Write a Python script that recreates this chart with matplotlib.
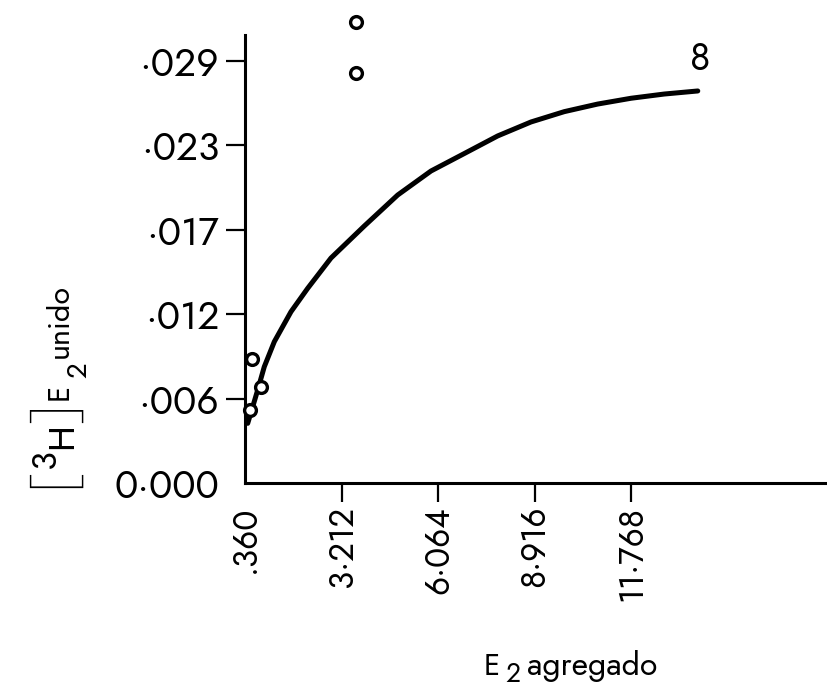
import matplotlib
matplotlib.use("Agg")
import matplotlib.pyplot as plt

plt.rcParams['font.family'] = ['Jost', 'Liberation Sans', 'DejaVu Sans']

# Measured binding: E2 added vs [3H]E2 bound
added_e2 = [3.63, 3.63, 0.566, 0.846, 0.507]
bound_e2 = [0.0317, 0.0282, 0.0085, 0.0066, 0.0050]

# Saturation curve traced through the binding data
curve_x = [0.440, 0.588, 0.735, 0.930, 1.226, 1.719, 2.213, 2.901, 3.885,
           4.872, 5.856, 6.840, 7.827, 8.812, 9.796, 10.78, 11.77, 12.75, 13.74]
curve_y = [0.00410, 0.00524, 0.00639, 0.00799, 0.00971, 0.01177, 0.01338,
           0.01546, 0.01766, 0.01979, 0.02144, 0.02264, 0.02385, 0.02481,
           0.02552, 0.02604, 0.02644, 0.02673, 0.02694]
curve_label = "8"

x_ticks = [0.360, 3.212, 6.064, 8.916, 11.768]
x_tick_labels = [".360", "3·212", "6·064", "8·916", "11·768"]
y_ticks = [0.0, 0.0058, 0.0116, 0.0174, 0.0232, 0.0290]
y_tick_labels = ["0·000", "·006", "·012", "·017", "·023", "·029"]

W, H = 828, 689
fig = plt.figure(figsize=(W / 100, H / 100), dpi=100)
ax = fig.add_axes([245 / W, 1 - 483 / H, (W - 245) / W, (483 - 35) / H])

ax.plot(curve_x, curve_y, color='black', lw=3.6, solid_capstyle='round',
        solid_joinstyle='round', zorder=2, clip_on=False)
ax.plot(added_e2, bound_e2, linestyle='none', marker='o', ms=8.5, mew=2.4,
        mfc='white', mec='black', zorder=3, clip_on=False)
ax.annotate(curve_label, (curve_x[-1], curve_y[-1]), xytext=(1.5, 23),
            textcoords='offset points', ha='center', va='center', fontsize=27)

ax.set_xlim(0.36, 0.36 + (W - 245) / 33.84)
ax.set_ylim(0, (483 - 35) / 14552)

ax.set_xticks(x_ticks)
ax.set_xticklabels(x_tick_labels, rotation=90, fontsize=24)
ax.set_yticks(y_ticks)
ax.set_yticklabels(y_tick_labels, fontsize=28)

ax.tick_params(axis='both', direction='out', length=13.5, width=1.6, color='black')
ax.tick_params(axis='y', pad=5)
ax.tick_params(axis='x', pad=3)
ax.xaxis.get_major_ticks()[0].tick1line.set_visible(False)
ax.yaxis.get_major_ticks()[0].tick1line.set_visible(False)

for side in ('top', 'right'):
    ax.spines[side].set_visible(False)
for side in ('left', 'bottom'):
    ax.spines[side].set_linewidth(2.2)
    ax.spines[side].set_color('black')


def label_piece(x, y, s, size, rot=0, ha='center', va='center', family=None):
    """Place one piece of an axis title at pixel position (x, y from top)."""
    kw = {} if family is None else {'family': family}
    fig.text(x / W, 1 - y / H, s, fontsize=size, rotation=rot,
             rotation_mode='anchor', ha=ha, va=va, **kw)


# y title: [3H] E2 unido, read bottom to top
bracket_font = ['Alumni Sans', 'Jost']
label_piece(56, 478, "[", 56, rot=90, family=bracket_font)
label_piece(55, 458, "3", 25, rot=90, va='baseline')
label_piece(72, 436, "H", 26, rot=90, va='baseline')
label_piece(56, 413, "]", 56, rot=90, family=bracket_font)
label_piece(68, 392, "E", 21, rot=90, va='baseline')
label_piece(86, 370, "2", 20, rot=90, va='baseline')
label_piece(68, 358, "unido", 22, rot=90, ha='left', va='baseline')

# x title: E2 agregado
label_piece(492, 675, "E", 21, va='baseline')
label_piece(513, 688, "2", 19, va='bottom')
label_piece(527, 675, "agregado", 23, ha='left', va='baseline')

fig.savefig("out.png", dpi=100, facecolor='white')
